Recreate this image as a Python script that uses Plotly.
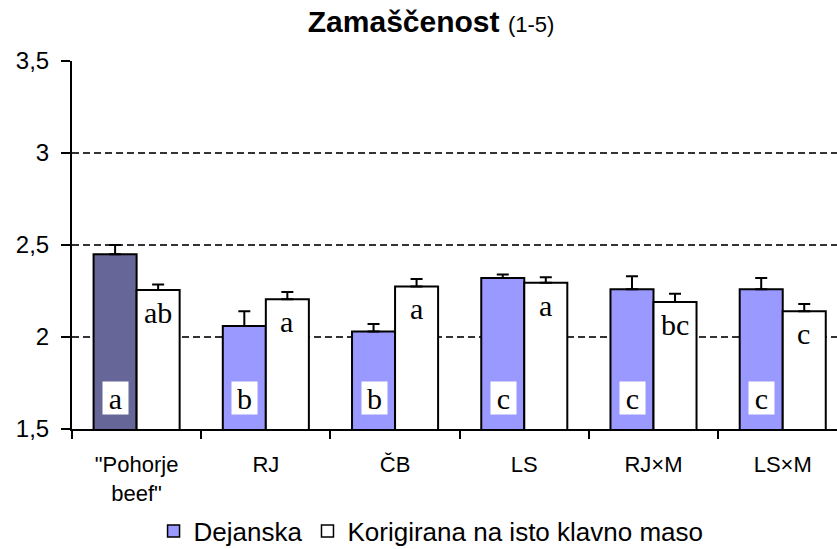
import plotly.graph_objects as go

categories = ["\"Pohorje<br>beef\"", "RJ", "ČB", "LS", "RJ×M", "LS×M"]
dejanska = [2.45, 2.06, 2.03, 2.32, 2.26, 2.26]
dejanska_err = [0.05, 0.08, 0.04, 0.02, 0.07, 0.06]
korigirana = [2.255, 2.205, 2.275, 2.295, 2.19, 2.14]
korigirana_err = [0.03, 0.04, 0.04, 0.03, 0.045, 0.04]
dejanska_letters = ["a", "b", "b", "c", "c", "c"]
korigirana_letters = ["ab", "a", "a", "a", "bc", "c"]
dejanska_colors = ["#666699", "#9999FF", "#9999FF", "#9999FF", "#9999FF", "#9999FF"]
ytick_vals = [1.5, 2, 2.5, 3, 3.5]
ytick_text = ["1,5", "2", "2,5", "3", "3,5"]
series_names = ["Dejanska", "Korigirana na isto klavno maso"]

BW = 0.333
fig = go.Figure()
fig.add_trace(go.Bar(
    x=categories, y=dejanska, width=BW, offset=-BW, showlegend=False,
    marker=dict(color=dejanska_colors, line=dict(color="black", width=2)),
    error_y=dict(type="data", symmetric=False, array=dejanska_err,
                 arrayminus=[0] * len(dejanska), color="black", thickness=2, width=6),
))
fig.add_trace(go.Bar(
    x=categories, y=korigirana, width=BW, offset=0, showlegend=False,
    marker=dict(color="white", line=dict(color="black", width=2)),
    error_y=dict(type="data", symmetric=False, array=korigirana_err,
                 arrayminus=[0] * len(korigirana), color="black", thickness=2, width=6),
))
# legend entries
fig.add_trace(go.Bar(x=[None], y=[None], name=series_names[0],
                     marker=dict(color="#9999FF", line=dict(color="black", width=1.5))))
fig.add_trace(go.Bar(x=[None], y=[None], name=series_names[1],
                     marker=dict(color="white", line=dict(color="black", width=1.5))))

annotations = []
for c, lab in zip(categories, dejanska_letters):
    annotations.append(dict(
        x=c, y=1.5, xref="x", yref="y", xshift=-21, yshift=14,
        yanchor="bottom", xanchor="center", text=lab, showarrow=False,
        bgcolor="white", width=25, height=32, borderpad=0,
        font=dict(family="Liberation Serif", size=30, color="black")))
for c, v, lab in zip(categories, korigirana, korigirana_letters):
    annotations.append(dict(
        x=c, y=v, xref="x", yref="y", xshift=21, yshift=-4,
        yanchor="top", xanchor="center", text=lab, showarrow=False,
        font=dict(family="Liberation Serif", size=30, color="black")))

fig.update_layout(
    width=837, height=549,
    margin=dict(l=72, r=0, t=61, b=120, autoexpand=False),
    paper_bgcolor="white", plot_bgcolor="white",
    title=dict(
        text="<b>Zamaščenost</b> <span style='font-size:22px'>(1-5)</span>",
        x=0.515, xref="container", xanchor="center",
        y=1 - 21 / 549, yref="container", yanchor="middle",
        font=dict(family="Liberation Sans", size=30, color="black")),
    xaxis=dict(
        type="category", range=[-0.5, 5.42], showline=True, linecolor="black",
        linewidth=2, ticks="outside", tickson="boundaries", ticklen=8,
        tickwidth=2, tickcolor="black", showgrid=False, automargin=False,
        tickfont=dict(family="Liberation Sans", size=22, color="black"),
        ticklabelstandoff=15),
    yaxis=dict(
        range=[1.5, 3.5], tickvals=ytick_vals, ticktext=ytick_text,
        showline=True, linecolor="black", linewidth=2, ticks="outside",
        ticklen=9, tickwidth=2, tickcolor="black", automargin=False,
        showgrid=True, gridcolor="#333333", gridwidth=2, griddash="7px,4px",
        zeroline=False, ticklabelstandoff=7,
        tickfont=dict(family="Liberation Sans", size=24, color="black")),
    legend=dict(
        orientation="h", x=0.515, xref="container", xanchor="center",
        y=1 - 531 / 549, yref="container", yanchor="middle",
        font=dict(family="Liberation Sans", size=26, color="black"),
        itemwidth=30, tracegroupgap=0),
    annotations=annotations,
    showlegend=True,
)

fig.write_html("out.html", config={"displayModeBar": False},
               post_script="document.body.style.margin='0';document.body.style.overflow='hidden';")
